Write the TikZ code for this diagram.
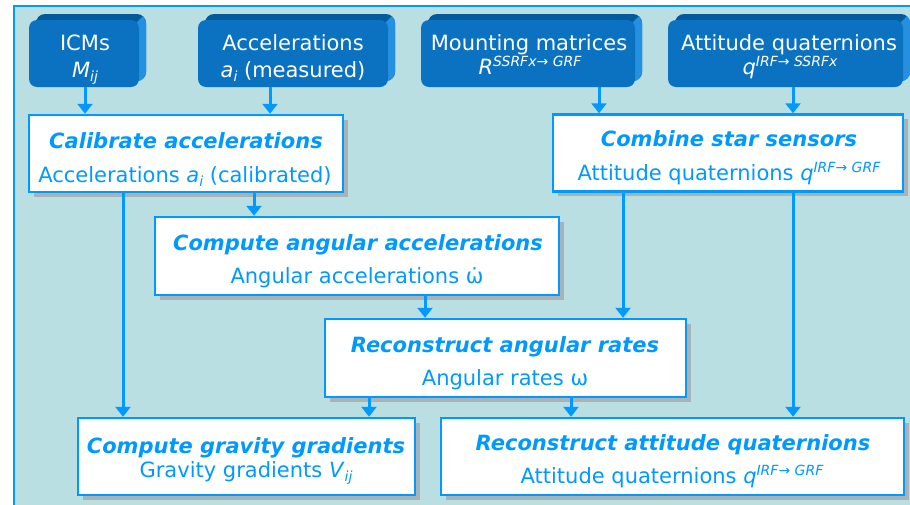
\documentclass[tikz,border=0pt]{standalone}
\usepackage{fontspec}
\setmainfont{DejaVu Sans}[
  ItalicFont={DejaVu Sans Oblique},
  BoldFont={DejaVu Sans Bold},
  BoldItalicFont={DejaVu Sans Bold Oblique}]
\usetikzlibrary{arrows.meta,shadows}

\definecolor{panel}{HTML}{BADFE3}
\definecolor{accent}{HTML}{0099FF}
\definecolor{facecol}{HTML}{0A72C1}
\definecolor{topdark}{HTML}{005A9C}
\definecolor{sidelight}{HTML}{2590E0}
\definecolor{shadowgrey}{HTML}{A9B3B5}

% subscripts and superscripts in small italic
\newcommand\sbs[1]{\raisebox{-4pt}{\fontsize{14}{14}\selectfont\itshape #1}}
\newcommand\sps[1]{\raisebox{8pt}{\fontsize{14}{14}\selectfont\itshape #1}}

% raised back of an input block: top face and right face
\newcommand\extrude[4]{%
  \begin{scope}
    \clip[rounded corners=9pt] ({#1+7},{#2-6}) rectangle ({#3+7},{#4-6});
    \fill[topdark] ({#1},{#2-12}) rectangle ({#3+12},{#4});
    \fill[sidelight] ({#3-12},{#2+12}) -- ({#3+12},{#2-12}) -- ({#3+12},{#4}) -- ({#3-12},{#4}) -- cycle;
  \end{scope}}

\begin{document}
\begin{tikzpicture}[x=1pt,y=-1pt,
  arr/.style={line width=3pt, draw=accent, -{Triangle[length=10pt,width=15pt]}},
  proc/.style={draw=accent, line width=2.5pt, fill=white, inner sep=0pt,
    general shadow={fill=shadowgrey, shadow xshift=4.5pt, shadow yshift=-4.5pt}},
  face/.style={fill=facecol, rounded corners=8pt, inner sep=0pt, outer sep=0pt},
  ptitle/.style={anchor=base, text=accent, inner sep=0pt,
    font=\fontsize{21}{24}\selectfont\bfseries\itshape},
  pline/.style={anchor=base, text=accent, inner sep=0pt,
    font=\fontsize{21}{24}\selectfont},
  wline/.style={anchor=base, text=white, inner sep=0pt,
    font=\fontsize{21}{24}\selectfont}]

\useasboundingbox (0,0) rectangle (910,504);
\clip (0,0) rectangle (910,504);

% background panel
\fill[panel] (14,6) rectangle (920,515);
\draw[accent, line width=2pt] (14,515) -- (14,6) -- (920,6);

% input blocks
\extrude{29}{20}{139}{87}
\node[face, minimum width=110, minimum height=67] (icm) at (84,53.5) {};
\extrude{198}{20}{388}{87}
\node[face, minimum width=190, minimum height=67] (acc) at (293,53.5) {};
\extrude{421}{20}{635}{87}
\node[face, minimum width=214, minimum height=67] (mnt) at (528,53.5) {};
\extrude{668}{20}{903}{87}
\node[face, minimum width=235, minimum height=67] (quat) at (785.5,53.5) {};

\node[wline] (icm-a) at (85,50) {ICMs};
\node[wline] (icm-b) at (85,77) {\textit{M}\sbs{ij}};
\node[wline] (acc-a) at (293,50) {Accelerations};
\node[wline] (acc-b) at (293,77) {\textit{a}\sbs{i} (measured)};
\node[wline] (mnt-a) at (529,50) {Mounting matrices};
\node[wline] (mnt-b) at (530,74) {\textit{R}\sps{SSRFx→ GRF}};
\node[wline] (quat-a) at (789,50) {Attitude quaternions};
\node[wline] (quat-b) at (790,74) {\textit{q}\sps{IRF→ SSRFx}};

% processing steps
\node[proc, minimum width=314, minimum height=77] (calib) at (186,153.5) {};
\node[proc, minimum width=350, minimum height=77] (comb) at (728,153) {};
\node[proc, minimum width=404, minimum height=78] (angacc) at (357,256) {};
\node[proc, minimum width=361, minimum height=78] (angrate) at (505.5,358) {};
\node[proc, minimum width=337, minimum height=77] (grav) at (246.5,456.5) {};
\node[proc, minimum width=463, minimum height=77] (att) at (672.5,456.5) {};

\node[ptitle] (calib-a) at (186,148) {Calibrate accelerations};
\node[pline]  (calib-b) at (185,182) {Accelerations \textit{a}\sbs{i} (calibrated)};
\node[ptitle] (comb-a) at (729,146) {Combine star sensors};
\node[pline]  (comb-b) at (729,180) {Attitude quaternions \textit{q}\sps{IRF→ GRF}};
\node[ptitle] (angacc-a) at (358,250) {Compute angular accelerations};
\node[pline]  (angacc-b) at (357,283) {Angular accelerations ω̇};
\node[ptitle] (angrate-a) at (505,352) {Reconstruct angular rates};
\node[pline]  (angrate-b) at (505,385) {Angular rates ω};
\node[ptitle] (grav-a) at (246,453) {Compute gravity gradients};
\node[pline]  (grav-b) at (246,477) {Gravity gradients \textit{V}\sbs{ij}};
\node[ptitle] (att-a) at (673,450) {Reconstruct attitude quaternions};
\node[pline]  (att-b) at (672,483) {Attitude quaternions \textit{q}\sps{IRF→ GRF}};

% connector columns
\coordinate (xa) at (85,0);
\coordinate (xb) at (270,0);
\coordinate (xc) at (599,0);
\coordinate (xd) at (793,0);
\coordinate (xe) at (254,0);
\coordinate (xf) at (123,0);
\coordinate (xg) at (623,0);
\coordinate (xh) at (425,0);
\coordinate (xi) at (369,0);
\coordinate (xj) at (571,0);

% connectors
\draw[arr] (icm.south -| xa) -- (calib.north -| xa);
\draw[arr] (acc.south -| xb) -- (calib.north -| xb);
\draw[arr] (mnt.south -| xc) -- (comb.north -| xc);
\draw[arr] (quat.south -| xd) -- (comb.north -| xd);
\draw[arr] (calib.south -| xe) -- (angacc.north -| xe);
\draw[arr] (calib.south -| xf) -- (grav.north -| xf);
\draw[arr] (comb.south -| xg) -- (angrate.north -| xg);
\draw[arr] (comb.south -| xd) -- (att.north -| xd);
\draw[arr] (angacc.south -| xh) -- (angrate.north -| xh);
\draw[arr] (angrate.south -| xi) -- (grav.north -| xi);
\draw[arr] (angrate.south -| xj) -- (att.north -| xj);
\end{tikzpicture}
\end{document}
